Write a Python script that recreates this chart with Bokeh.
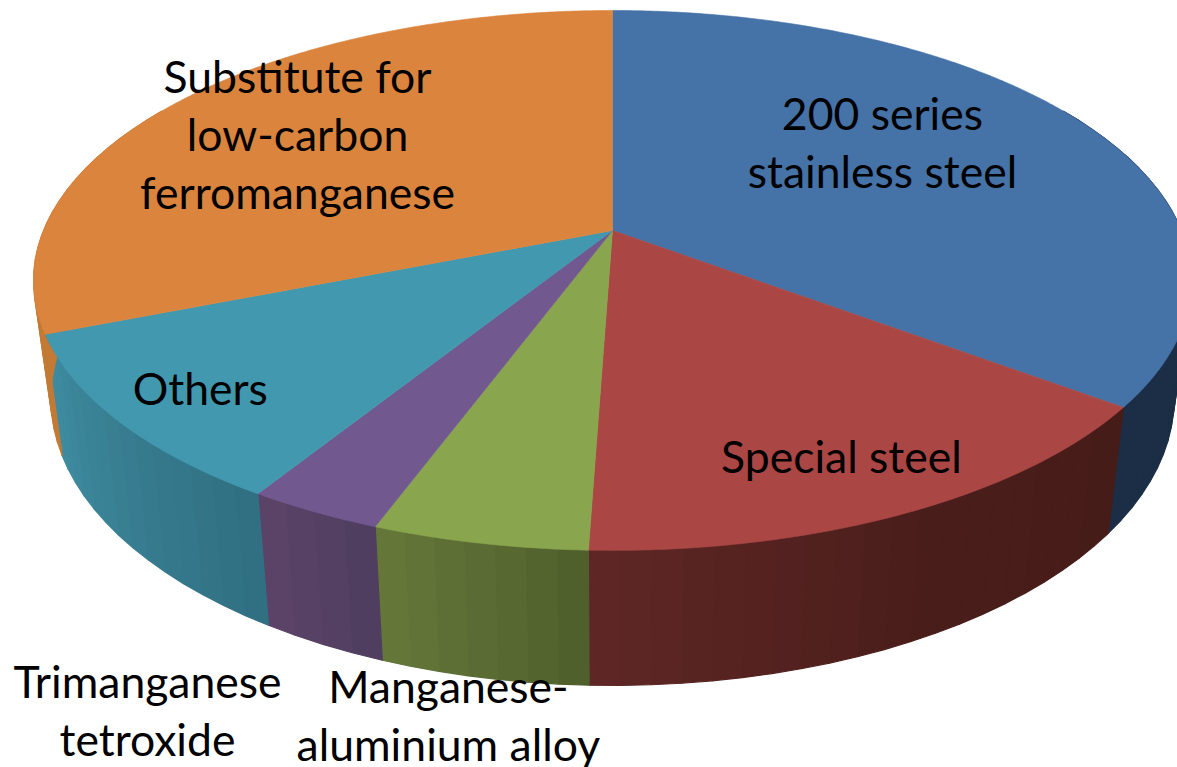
import math
from bokeh.plotting import figure
from bokeh.models import Range1d
from bokeh.core.properties import value
from bokeh.embed import file_html
from bokeh.resources import INLINE

# ---- data (percent shares, clockwise from the far side of the pie) ----
categories = ["200 series\nstainless steel", "Special steel", "Manganese-\naluminium alloy",
              "Trimanganese\ntetroxide", "Others", "Substitute for\nlow-carbon\nferromanganese"]
shares = [35.3, 15.25, 5.05, 3.2, 10.15, 31.05]

# ---- style ----
top_colors = ["#4572A7", "#AA4643", "#89A54E", "#71588F", "#4198AF", "#DB843D"]
wall_stops = [
    [(0.0, "#1B2E45"), (1.0, "#1B2E45")],
    [(0.0, "#461C19"), (0.45, "#491D1A"), (1.0, "#5F2725")],
    [(0.0, "#4E5E2C"), (1.0, "#66793A")],
    [(0.0, "#4E3D60"), (1.0, "#5C4468")],
    [(0.0, "#306F82"), (1.0, "#3F8CA0")],
    [(0.0, "#C27A35"), (1.0, "#C27A35")],
]
# label layout: (angle in degrees, radial factor) in pie coordinates
label_pos = [(54.9, 0.618), (155.2, 0.826), (188.8, 1.402), (203.9, 1.504), (229.9, 0.851), (303.4, 0.711)]
LABEL_SHIFT = -2.0
FONT = "Lato"
FONT_SIZE = "44.5px"

# ---- projection of the tilted disc ----
CX, CY, F, G, K = 612.0, 230.0, 569.0, 260.7, 0.185
SX, AY, BY = 0.97, 100.4, 1.063


def top(theta, r=1.0):
    t = math.radians(theta)
    X, Y = r * math.sin(t), r * math.cos(t)
    w = 1 + K * Y
    return CX + F * X / w, CY - G * Y / w


def bottom(theta):
    x, y = top(theta)
    return CX + SX * (x - CX), AY + BY * y


def hex2rgb(c):
    return [int(c[i:i + 2], 16) for i in (1, 3, 5)]


def wall_color(stops, f):
    for (a, ca), (b, cb) in zip(stops, stops[1:]):
        if f <= b:
            u = (f - a) / (b - a)
            ra, rb = hex2rgb(ca), hex2rgb(cb)
            return "#%02X%02X%02X" % tuple(round(p + (q - p) * u) for p, q in zip(ra, rb))
    return stops[-1][1]


p = figure(width=1177, height=767, x_range=Range1d(0, 1177), y_range=Range1d(767, 0),
           output_backend="svg", toolbar_location=None, min_border=0,
           x_axis_location=None, y_axis_location=None, outline_line_color=None)
p.grid.visible = False
p.background_fill_color = "white"
p.border_fill_color = "white"

total = sum(shares)
edges = [0.0]
for s in shares:
    edges.append(edges[-1] + 360.0 * s / total)

# side walls: only the arc facing the viewer is needed
wall_xs, wall_ys, wall_cs = [], [], []
for i in range(len(shares)):
    a0, a1 = edges[i], edges[i + 1]
    v0, v1 = max(a0, 60.0), min(a1, 300.0)
    n = max(3, int((v1 - v0) / 2.5))
    for j in range(n):
        t0 = v0 + (v1 - v0) * j / n
        t1 = v0 + (v1 - v0) * (j + 1) / n
        p0, p1, q1, q0 = top(t0), top(t1), bottom(t1), bottom(t0)
        wall_xs.append([p0[0], p1[0], q1[0], q0[0]])
        wall_ys.append([p0[1], p1[1], q1[1], q0[1]])
        wall_cs.append(wall_color(wall_stops[i], (j + 0.5) / n))
p.patches(wall_xs, wall_ys, fill_color=wall_cs, line_color=wall_cs, line_width=1.2)

# top faces
for i, c in enumerate(top_colors):
    a0, a1 = edges[i], edges[i + 1]
    n = max(8, int((a1 - a0) / 0.5))
    pts = [top(a0 + (a1 - a0) * j / n) for j in range(n + 1)]
    xs = [CX] + [q[0] for q in pts]
    ys = [CY] + [q[1] for q in pts]
    p.patch(xs, ys, fill_color=c, line_color=c, line_width=0.6)

# labels
for name, (ang, r) in zip(categories, label_pos):
    x, y = top(ang, r)
    p.text([x], [y + LABEL_SHIFT], text=[name], text_font=value(FONT), text_font_size=FONT_SIZE,
           text_color="black", text_align="center", text_baseline="middle",
           text_line_height=1.10)

open("out.html", "w").write(file_html(p, INLINE))
